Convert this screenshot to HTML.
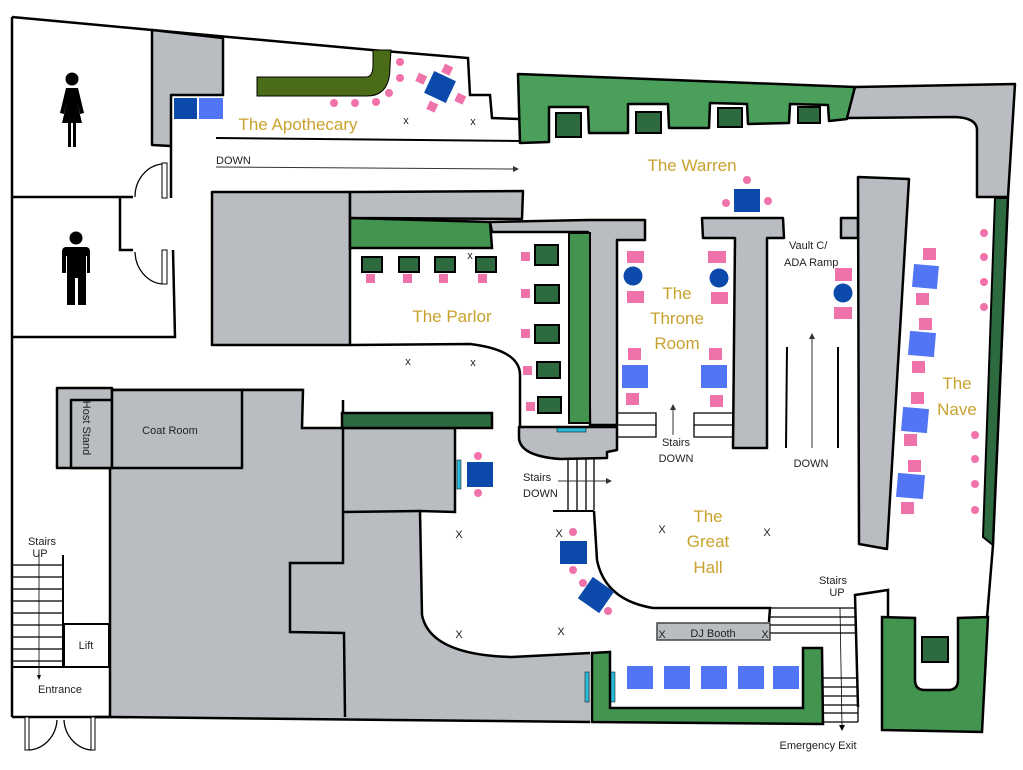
<!DOCTYPE html>
<html><head><meta charset="utf-8"><style>
html,body{margin:0;padding:0;background:#fff;}
svg{display:block;font-family:"Liberation Sans",sans-serif;}
.g{fill:#b9bcc0;stroke:#000;stroke-width:2.5;stroke-linejoin:round}
.w{fill:none;stroke:#000;stroke-width:2.5}
.t{fill:none;stroke:#000;stroke-width:1.3}
.pk{fill:#f072aa}
.db{fill:#0b4aaa}
.lb{fill:#5275f5}
.dg{fill:#2d6a3f;stroke:#000;stroke-width:2}
.gold{fill:#c9a22e;font-size:17px;text-anchor:middle}
.lbl{font-size:11px;fill:#222}
</style></head><body>
<svg width="1023" height="770" viewBox="0 0 1023 770" xmlns="http://www.w3.org/2000/svg">
<!-- outer top wall -->
<polyline class="w" points="12,17 152,30 372,50 468,58 470,95 490,95 492,118 519,119"/>
<line class="w" x1="12" y1="17" x2="12" y2="717"/>
<!-- restrooms -->
<polygon class="g" points="152,30 223,38 223,95 171,95 171,146 152,145"/>
<line class="w" x1="171" y1="146" x2="171" y2="198"/>
<polyline class="w" points="12,197 133,197"/>
<polyline class="w" points="120,198 120,250 133,250"/>
<polyline class="w" points="173,250 175,337 12,337"/>
<rect x="162" y="163" width="5" height="35" fill="#fff" stroke="#000" stroke-width="1"/>
<rect x="162" y="250" width="5" height="34" fill="#fff" stroke="#000" stroke-width="1"/>
<path d="M135,197 A30,33 0 0 1 162,164" class="t" stroke-width="0.8"/>
<path d="M135,252 A30,33 0 0 0 162,284" class="t" stroke-width="0.8"/>
<!-- woman icon -->
<circle cx="72" cy="79" r="6.5" fill="#000"/>
<path d="M66,88 L78,88 L84,113 L80,114 L76,98 L82,123 L76,123 L76,147 L73,147 L73,123 L71,123 L71,147 L68,147 L68,123 L62,123 L68,98 L64,114 L60,113 Z" fill="#000"/>
<!-- man icon -->
<circle cx="76" cy="238" r="6.5" fill="#000"/>
<path d="M66,247 L86,247 Q90,247 90,252 L90,273 L87,273 L87,256 L86,256 L86,305 L78,305 L78,278 L75,278 L75,305 L67,305 L67,256 L66,256 L66,273 L62,273 L62,252 Q62,247 66,247 Z" fill="#000"/>
<!-- apothecary -->
<rect x="174" y="98" width="23" height="21" class="db"/>
<rect x="199" y="98" width="24" height="21" class="lb"/>
<path d="M257,77 L366,77 Q373,77 373,65 L373,50 L391,50 L390,67 Q390,96 367,96 L257,96 Z" fill="#4a6b18" stroke="#000" stroke-width="1"/>
<g class="pk"><circle cx="400" cy="62" r="4"/><circle cx="400" cy="78" r="4"/><circle cx="389" cy="93" r="4"/><circle cx="376" cy="102" r="4"/><circle cx="355" cy="103" r="4"/><circle cx="334" cy="103" r="4"/>
<rect x="443" y="65" width="9" height="9" transform="rotate(25 447 69)"/><rect x="417" y="74" width="9" height="9" transform="rotate(25 421 78)"/><rect x="456" y="94" width="9" height="9" transform="rotate(25 460 98)"/><rect x="428" y="102" width="9" height="9" transform="rotate(25 432 106)"/></g>
<rect x="428" y="75" width="24" height="24" class="db" transform="rotate(25 440 87)"/>
<text x="406" y="124" class="lbl" text-anchor="middle">x</text><text x="473" y="125" class="lbl" text-anchor="middle">x</text>
<text x="298" y="130" class="gold">The Apothecary</text>
<line x1="216" y1="138" x2="520" y2="141" stroke="#000" stroke-width="2"/>
<text x="216" y="164" class="lbl">DOWN</text>
<line x1="216" y1="167" x2="516" y2="169" stroke="#333" stroke-width="1"/>
<polygon points="519,169 513,166 513,172" fill="#333"/>
<!-- warren -->
<path d="M518,74 L855,87 L847,119 L829,121 L828,105 L790,104 L789,123 L748,124 L747,104 L710,103 L709,128 L669,128 L668,104 L628,104 L628,133 L589,133 L588,107 L549,107 L549,142 L520,143 Z" fill="#4aa05a" stroke="#000" stroke-width="2.5" stroke-linejoin="round"/>
<rect x="556" y="113" width="25" height="24" class="dg"/><rect x="636" y="112" width="25" height="21" class="dg"/><rect x="718" y="108" width="24" height="19" class="dg"/><rect x="798" y="107" width="22" height="16" class="dg"/>
<path class="g" d="M855,87 L1015,84 L1008,197 L977,197 L977,130 Q977,118 955,117 L847,118 Z"/>
<path d="M995,198 L1008,198 L1000,385 L993,545 L983,537 Z" fill="#2d6a3f" stroke="#000" stroke-width="2"/>
<polyline class="w" points="1008,198 1000,385 993,545 987,618"/>
<text x="692" y="171" class="gold">The Warren</text>
<rect x="734" y="189" width="26" height="23" class="db"/>
<g class="pk"><circle cx="747" cy="180" r="4"/><circle cx="726" cy="203" r="4"/><circle cx="768" cy="201" r="4"/></g>
<!-- parlor -->
<rect x="212" y="192" width="138" height="153" class="g"/>
<polygon class="g" points="350,192 523,191 522,219 350,218"/>
<polygon points="350,218 490,222 492,248 350,248" fill="#43944f" stroke="#000" stroke-width="2.5"/>
<polygon class="g" points="490,222 588,220 645,220 645,240 617,240 617,425 590,425 588,232 492,232"/>
<rect x="569" y="233" width="21" height="190" fill="#43944f" stroke="#000" stroke-width="2"/>
<g><rect x="362" y="257" width="20" height="15" class="dg"/><rect x="399" y="257" width="20" height="15" class="dg"/><rect x="435" y="257" width="20" height="15" class="dg"/><rect x="476" y="257" width="20" height="15" class="dg"/>
<rect x="535" y="245" width="23" height="20" class="dg"/><rect x="535" y="285" width="24" height="18" class="dg"/><rect x="535" y="325" width="24" height="18" class="dg"/><rect x="537" y="362" width="23" height="16" class="dg"/><rect x="538" y="397" width="23" height="16" class="dg"/></g>
<g class="pk"><rect x="366" y="274" width="9" height="9"/><rect x="403" y="274" width="9" height="9"/><rect x="439" y="274" width="9" height="9"/><rect x="478" y="274" width="9" height="9"/>
<rect x="521" y="252" width="9" height="9"/><rect x="521" y="289" width="9" height="9"/><rect x="521" y="329" width="9" height="9"/><rect x="523" y="366" width="9" height="9"/><rect x="526" y="402" width="9" height="9"/></g>
<text x="470" y="259" class="lbl" text-anchor="middle" font-size="10">x</text>
<text x="452" y="322" class="gold">The Parlor</text>
<path class="w" d="M350,345 L470,344 Q520,350 520,375 L520,430" stroke-width="2.5"/>
<text x="408" y="365" class="lbl" text-anchor="middle" font-size="10">x</text><text x="473" y="366" class="lbl" text-anchor="middle" font-size="10">x</text>
<path class="g" d="M519,427 L617,427 L617,450 L607,452 L607,458 L560,459 Q520,456 519,438 Z"/>
<rect x="557" y="428" width="29" height="4" fill="#2bbbd8" stroke="#000" stroke-width="0.5"/>
<!-- throne room -->
<polygon class="g" points="702,218 783,218 784,238 767,238 767,448 733,448 735,238 703,238"/>
<g class="pk"><rect x="627" y="251" width="17" height="12"/><rect x="627" y="291" width="17" height="12"/><rect x="708" y="251" width="18" height="12"/><rect x="711" y="292" width="17" height="12"/>
<rect x="628" y="348" width="13" height="12"/><rect x="626" y="393" width="13" height="12"/><rect x="709" y="348" width="13" height="12"/><rect x="710" y="395" width="13" height="12"/></g>
<circle cx="633" cy="276" r="9.5" class="db"/><circle cx="719" cy="278" r="9.5" class="db"/>
<rect x="622" y="365" width="26" height="23" class="lb"/><rect x="701" y="365" width="26" height="23" class="lb"/>
<text x="677" y="299" class="gold">The</text><text x="677" y="324" class="gold">Throne</text><text x="677" y="349" class="gold">Room</text>
<g class="t"><polyline points="617,413 656,413 656,437 617,437"/><line x1="617" y1="425" x2="656" y2="425"/><polyline points="733,413 694,413 694,437 733,437"/><line x1="694" y1="425" x2="733" y2="425"/></g>
<line x1="673" y1="435" x2="673" y2="408" stroke="#333" stroke-width="1"/><polygon points="673,404 670,410 676,410" fill="#333"/>
<text x="676" y="446" class="lbl" text-anchor="middle">Stairs</text><text x="676" y="462" class="lbl" text-anchor="middle">DOWN</text>
<!-- vault / ramp -->
<text x="789" y="249" class="lbl" font-size="10">Vault C/</text><text x="784" y="266" class="lbl" font-size="10">ADA Ramp</text>
<rect x="841" y="218" width="17" height="20" class="g"/>
<polygon class="g" points="858,177 909,179 887,549 859,544"/>
<g class="pk"><rect x="835" y="268" width="17" height="13"/><rect x="834" y="307" width="18" height="12"/></g>
<circle cx="843" cy="293" r="9.5" class="db"/>
<line x1="787" y1="347" x2="786" y2="448" stroke="#000" stroke-width="2"/><line x1="838" y1="347" x2="838" y2="448" stroke="#000" stroke-width="2"/>
<line x1="812" y1="448" x2="812" y2="338" stroke="#333" stroke-width="1"/><polygon points="812,333 809,339 815,339" fill="#333"/>
<text x="811" y="467" class="lbl" text-anchor="middle">DOWN</text>
<!-- nave -->
<g class="lb"><rect x="913" y="265" width="25" height="23" transform="rotate(5 925 276)"/><rect x="909" y="332" width="26" height="24" transform="rotate(5 922 344)"/><rect x="902" y="408" width="26" height="24" transform="rotate(5 915 420)"/><rect x="897" y="474" width="27" height="24" transform="rotate(5 910 486)"/></g>
<g class="pk"><rect x="923" y="248" width="13" height="12"/><rect x="916" y="293" width="13" height="12"/><rect x="919" y="318" width="13" height="12"/><rect x="912" y="361" width="13" height="12"/><rect x="911" y="392" width="13" height="12"/><rect x="904" y="434" width="13" height="12"/><rect x="908" y="460" width="13" height="12"/><rect x="901" y="502" width="13" height="12"/>
<circle cx="984" cy="233" r="4"/><circle cx="984" cy="257" r="4"/><circle cx="984" cy="282" r="4"/><circle cx="984" cy="307" r="4"/><circle cx="975" cy="435" r="4"/><circle cx="975" cy="459" r="4"/><circle cx="975" cy="484" r="4"/><circle cx="975" cy="510" r="4"/></g>
<text x="957" y="389" class="gold">The</text><text x="957" y="415" class="gold">Nave</text>
<!-- lower left -->
<path d="M57,388 L303,388 L302,428 L455,428 L455,512 L420,511 L422,615 Q430,655 512,657 L590,653 L590,722 L110,717 L110,468 L57,468 Z" fill="#b9bcc0"/>
<rect x="57" y="388" width="55" height="80" class="g"/>
<rect x="71" y="400" width="41" height="68" class="g"/>
<rect x="112" y="390" width="130" height="78" class="g"/>
<path class="w" d="M242,390 L303,390 L302,428 L455,428 L455,512 L420,511 L422,615 Q430,655 512,657 L590,653"/>
<line class="w" x1="343" y1="400" x2="343" y2="428"/>
<polyline class="w" points="343,428 343,563 290,563 290,632 344,633 345,717"/>
<line class="w" x1="343" y1="512" x2="420" y2="511"/>
<polyline class="w" points="110,468 110,717 12,717"/>
<line class="w" x1="110" y1="717" x2="590" y2="722"/>
<rect x="342" y="413" width="150" height="15" fill="#2d6a3f" stroke="#000" stroke-width="2.5"/>
<text x="170" y="434" class="lbl" text-anchor="middle">Coat Room</text>
<text transform="translate(83,428) rotate(90)" class="lbl" text-anchor="middle">Host Stand</text>
<rect x="457" y="460" width="4" height="29" fill="#2bbbd8" stroke="#000" stroke-width="0.5"/>
<rect x="467" y="462" width="26" height="25" class="db"/>
<g class="pk"><circle cx="478" cy="456" r="4"/><circle cx="478" cy="493" r="4"/></g>
<text x="459" y="538" class="lbl" text-anchor="middle">X</text><text x="459" y="638" class="lbl" text-anchor="middle">X</text>
<!-- entrance -->
<g class="t"><line x1="13" y1="565" x2="63" y2="565"/><line x1="13" y1="577" x2="63" y2="577"/><line x1="13" y1="589" x2="63" y2="589"/><line x1="13" y1="601" x2="63" y2="601"/><line x1="13" y1="613" x2="63" y2="613"/><line x1="13" y1="625" x2="63" y2="625"/><line x1="13" y1="637" x2="63" y2="637"/><line x1="13" y1="649" x2="63" y2="649"/><line x1="13" y1="661" x2="63" y2="661"/></g>
<line x1="63" y1="555" x2="63" y2="667" stroke="#000" stroke-width="2"/>
<rect x="64" y="624" width="45" height="43" fill="#fff" stroke="#000" stroke-width="2"/>
<line x1="12" y1="667" x2="110" y2="667" stroke="#000" stroke-width="2"/>
<text x="86" y="649" class="lbl" text-anchor="middle">Lift</text>
<text x="42" y="545" class="lbl" text-anchor="middle" font-size="10">Stairs</text><text x="40" y="557" class="lbl" text-anchor="middle" font-size="10">UP</text>
<line x1="39" y1="553" x2="39" y2="676" stroke="#000" stroke-width="0.8"/><polygon points="39,680 37,675 41,675" fill="#000"/>
<text x="60" y="693" class="lbl" text-anchor="middle">Entrance</text>
<rect x="25" y="717" width="4" height="33" fill="#fff" stroke="#000" stroke-width="1"/><rect x="91" y="717" width="4" height="33" fill="#fff" stroke="#000" stroke-width="1"/>
<line x1="95" y1="717" x2="110" y2="717" stroke="#000" stroke-width="2.5"/>
<path d="M29,750 A30,32 0 0 0 57,720" class="t" stroke-width="0.8"/><path d="M91,750 A30,32 0 0 1 64,720" class="t" stroke-width="0.8"/>
<rect x="58" y="716" width="4" height="2" fill="#000"/>
<!-- great hall -->
<g class="t"><line x1="568" y1="458" x2="568" y2="510"/><line x1="577" y1="458" x2="577" y2="510"/><line x1="586" y1="458" x2="586" y2="510"/><line x1="594" y1="458" x2="594" y2="510"/></g>
<line x1="553" y1="511" x2="594" y2="511" stroke="#000" stroke-width="2"/>
<line x1="558" y1="481" x2="608" y2="481" stroke="#333" stroke-width="1"/><polygon points="612,481 606,478 606,484" fill="#333"/>
<text x="523" y="481" class="lbl">Stairs</text><text x="523" y="497" class="lbl">DOWN</text>
<path class="w" d="M594,511 L597,560 Q605,600 653,608 L770,608 L769,622"/>
<rect x="657" y="623" width="113" height="17" fill="#b9bcc0" stroke="#444" stroke-width="1.5"/>
<text x="713" y="637" class="lbl" text-anchor="middle" font-size="10.5">DJ Booth</text>
<text x="662" y="638" class="lbl" text-anchor="middle">X</text><text x="765" y="638" class="lbl" text-anchor="middle">X</text>
<rect x="560" y="541" width="27" height="23" class="db"/>
<rect x="583" y="582" width="26" height="26" class="db" transform="rotate(35 596 595)"/>
<g class="pk"><circle cx="573" cy="532" r="4"/><circle cx="573" cy="570" r="4"/><circle cx="583" cy="583" r="4"/><circle cx="608" cy="611" r="4"/></g>
<text x="559" y="537" class="lbl" text-anchor="middle">X</text><text x="662" y="533" class="lbl" text-anchor="middle">X</text><text x="767" y="536" class="lbl" text-anchor="middle">X</text><text x="561" y="635" class="lbl" text-anchor="middle">X</text>
<text x="708" y="522" class="gold">The</text><text x="708" y="547" class="gold">Great</text><text x="708" y="573" class="gold">Hall</text>
<!-- stairs up right -->
<g class="t"><line x1="770" y1="608" x2="855" y2="608"/><line x1="770" y1="617" x2="855" y2="617"/><line x1="770" y1="625" x2="855" y2="625"/><line x1="770" y1="633" x2="855" y2="633"/>
<line x1="823" y1="678" x2="858" y2="678"/><line x1="823" y1="687" x2="858" y2="687"/><line x1="823" y1="696" x2="858" y2="696"/><line x1="823" y1="705" x2="858" y2="705"/><line x1="823" y1="713" x2="858" y2="713"/><line x1="823" y1="722" x2="858" y2="722"/><line x1="858" y1="707" x2="858" y2="722"/></g>
<polyline class="w" points="858,707 855,595 888,590 888,617"/>
<line x1="840" y1="608" x2="842" y2="726" stroke="#000" stroke-width="0.8"/><polygon points="842,731 839,725 845,725" fill="#000"/>
<text x="833" y="584" class="lbl" text-anchor="middle" font-size="10">Stairs</text><text x="837" y="596" class="lbl" text-anchor="middle" font-size="10">UP</text>
<text x="818" y="749" class="lbl" text-anchor="middle" font-size="10.5">Emergency Exit</text>
<!-- bottom green -->
<polygon points="592,653 610,652 610,708 803,708 803,648 822,648 823,724 592,722" fill="#43944f" stroke="#000" stroke-width="2.5"/>
<rect x="585" y="672" width="4" height="30" fill="#2bbbd8" stroke="#000" stroke-width="0.5"/><rect x="611" y="672" width="4" height="30" fill="#2bbbd8" stroke="#000" stroke-width="0.5"/>
<g class="lb"><rect x="627" y="666" width="26" height="23"/><rect x="664" y="666" width="26" height="23"/><rect x="701" y="666" width="26" height="23"/><rect x="738" y="666" width="26" height="23"/><rect x="773" y="666" width="26" height="23"/></g>
<path d="M882,617 L915,618 L915,680 Q915,690 925,690 L948,690 Q958,690 958,680 L958,618 L988,617 L982,732 L882,730 Z" fill="#43944f" stroke="#000" stroke-width="2.5"/>
<rect x="922" y="637" width="26" height="25" class="dg"/>
</svg>
</body></html>
